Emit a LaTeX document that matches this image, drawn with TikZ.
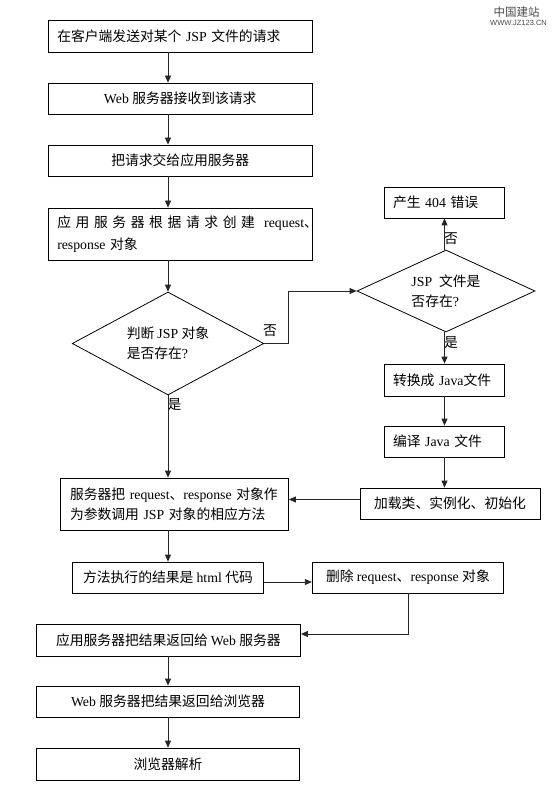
\documentclass[tikz,border=0pt]{standalone}
\usepackage{fontspec}
\setmainfont{Liberation Serif}
\newfontfamily\cjkf{Noto Sans CJK SC}
\newfontfamily\urlf{Liberation Sans}
\usetikzlibrary{arrows.meta,shapes.geometric}
\newXeTeXintercharclass\CJKcls
\makeatletter
\count@="3000
\loop \XeTeXcharclass\count@=\CJKcls \ifnum\count@<"9FFF \advance\count@ by 1 \repeat
\count@="FF00
\loop \XeTeXcharclass\count@=\CJKcls \ifnum\count@<"FFEF \advance\count@ by 1 \repeat
\makeatother
\XeTeXinterchartoks 0 \CJKcls = {\cjkf}
\XeTeXinterchartoks 4095 \CJKcls = {\cjkf}
\XeTeXinterchartoks \CJKcls 0 = {\rmfamily}
\XeTeXinterchartoks 4095 0 = {\rmfamily}
\XeTeXinterchartokenstate=1
\newcommand\fs{\fontsize{13.8}{20}\selectfont}
\begin{document}
\begin{tikzpicture}[x=1pt,y=-1pt,
  box/.style={draw, line width=0.8pt, inner sep=0pt, font=\fs, align=center},
  lbox/.style={box, align=left},
  dia/.style={draw, diamond, line width=0.8pt, inner sep=0pt, font=\fs, align=left},
  arr/.style={line width=0.8pt, draw=black!85, -{Triangle[length=7pt,width=6pt]}},
  lab/.style={font=\fs, inner sep=0pt}]
\fill[white] (0,0) rectangle (553,802);
\useasboundingbox (0,0) rectangle (553,802);
\coordinate (cx) at (168,0);
% watermark
\node[font=\cjkf\fontsize{11.5}{12}\selectfont, text=black!70, inner sep=0pt] (wm1) at (516.5,12) {中国建站};
\node[font=\urlf\fontsize{7.5}{8}\selectfont, text=black!70, inner sep=0pt] (wm2) at (518.5,23) {\XeTeXinterchartokenstate=0 \urlf WWW.JZ123.CN};
% main column
\node[lbox, minimum width=264, minimum height=32, inner xsep=9pt, text width=246pt] (b1) at (180.25,36) {在客户端发送对某个 JSP 文件的请求};
\node[box, minimum width=264, minimum height=31] (b2) at (180.25,98.5) {Web 服务器接收到该请求};
\node[box, minimum width=264, minimum height=31] (b3) at (180.25,160.5) {把请求交给应用服务器};
\node[lbox, minimum width=264, minimum height=52, inner xsep=9pt, text width=246pt, font=\fontsize{13.8}{22}\selectfont] (b4) at (180.25,234) {\makebox[235.5pt][s]{应 用 服 务 器 根 据 请 求 创 建 \ request、}\\response 对象};
\node[dia, aspect=1.86, minimum width=191.5, minimum height=103] (d1) at (168,343.5) {判断 JSP 对象\\是否存在?};
\node[dia, aspect=2.17, minimum width=178, minimum height=82] (d2) at (446,291) {JSP \ 文件是\\否存在?};
\node[lbox, minimum width=120, minimum height=31, inner xsep=8.5pt, text width=103pt] (e404) at (444.5,202.5) {产生 404 错误};
\node[lbox, minimum width=120, minimum height=32, inner xsep=8.5pt, text width=103pt] (zh) at (444.5,380) {转换成 Java文件};
\node[lbox, minimum width=120, minimum height=31, inner xsep=8.5pt, text width=103pt] (by) at (444.5,441.5) {编译 Java 文件};
\node[box, minimum width=180, minimum height=31] (jz) at (450,503.5) {加载类、实例化、初始化};
\node[lbox, minimum width=228.5, minimum height=52, inner xsep=10pt, text width=208.5pt] (fw) at (174.25,504) {服务器把 request、response 对象作\\为参数调用 JSP 对象的相应方法};
\node[box, minimum width=191.5, minimum height=31] (ff) at (168,577.5) {方法执行的结果是 html 代码};
\node[box, minimum width=191.5, minimum height=31] (sc) at (408,577.5) {删除 request、response 对象};
\node[box, minimum width=264.2, minimum height=32] (yy) at (168.4,640) {应用服务器把结果返回给 Web 服务器};
\node[box, minimum width=263.5, minimum height=31] (wb) at (168,701.5) {Web 服务器把结果返回给浏览器};
\node[box, minimum width=263.5, minimum height=32] (jx) at (168,764) {浏览器解析};
% labels
\node[lab] (n1) at (270,331) {否};
\node[lab] (y1) at (174.6,405) {是};
\node[lab] (n2) at (451,239) {否};
\node[lab] (y2) at (451,343) {是};
% connectors
\draw[arr] (b1.south -| cx) -- (b2.north -| cx);
\draw[arr] (b2.south -| cx) -- (b3.north -| cx);
\draw[arr] (b3.south -| cx) -- (b4.north -| cx);
\draw[arr] (b4.south -| cx) -- (d1.north);
\draw[arr] (d1.south) -- (fw.north -| cx);
\draw[arr] (d1.east) -- ++(24.7,0) |- (d2.west);
\draw[arr] (d2.north -| e404.south) -- (e404.south);
\draw[arr] (d2.south -| zh.north) -- (zh.north);
\draw[arr] (zh.south) -- (by.north);
\draw[arr] (by.south) -- (by.south |- jz.north);
\draw[arr] ([yshift=4pt]jz.west) -- ([yshift=4pt]jz.west -| fw.east);
\draw[arr] (fw.south -| cx) -- (ff.north);
\draw[arr] ([yshift=-4.5pt]ff.east) -- ([yshift=-4.5pt]sc.west);
\draw[arr] (sc.south) |- ([yshift=6pt]yy.east);
\draw[arr] (yy.south -| cx) -- (wb.north -| cx);
\draw[arr] (wb.south -| cx) -- (jx.north -| cx);
\end{tikzpicture}
\end{document}
